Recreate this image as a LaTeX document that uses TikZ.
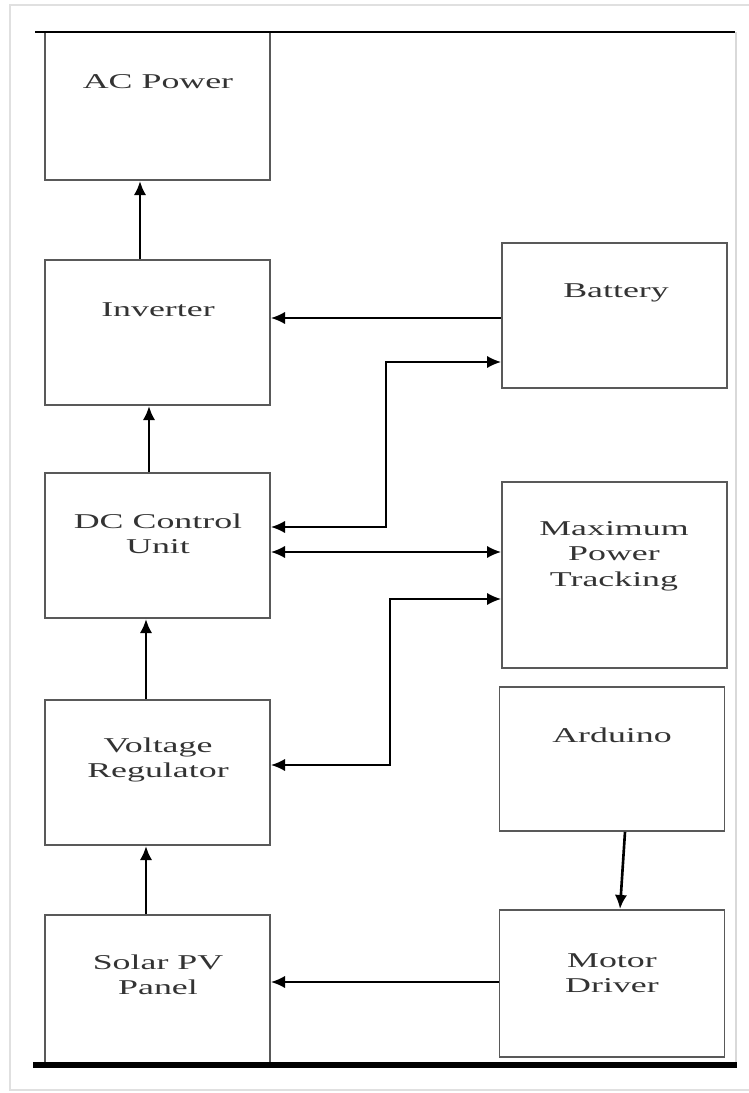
\documentclass[tikz,border=0pt]{standalone}
\usepackage{fontspec}
\setmainfont{Liberation Serif}[FakeStretch=1.7]
\usetikzlibrary{arrows.meta}

\begin{document}
\begin{tikzpicture}[x=0.02cm,y=-0.02cm,
    box/.style={draw=black!65,line width=1.1pt,rectangle,inner sep=0pt,minimum width=4.5cm},
    txt/.style={text=black!80,align=center,inner sep=0pt,font=\fontsize{12}{14.5}\selectfont},
    arr/.style={draw=black,line width=1pt,-{Latex[length=8pt,width=7pt]}},
    biarr/.style={draw=black,line width=1pt,{Latex[length=8pt,width=7pt]}-{Latex[length=8pt,width=7pt]}},
    uparr/.style={arr,line width=1.5pt}]
        \useasboundingbox (0,0) rectangle (749,1093);
        \draw[black!12,line width=1.2pt] (749,5) -- (10,5) -- (10,1090) -- (749,1090);
        \draw[black!15,line width=0.8pt] (736,32) -- (736,1065);

        \node[box,minimum height=2.96cm] (acp) at (157.5,106) {};
        \node[box,minimum height=2.9cm] (inv) at (157.5,332.5) {};
        \node[box,minimum height=2.9cm] (dcu) at (157.5,545.5) {};
        \node[box,minimum height=2.9cm] (vreg) at (157.5,772.5) {};
        \node[box,minimum height=2.96cm] (spv) at (157.5,989) {};
        \node[box,minimum height=2.9cm] (bat) at (614.5,315.5) {};
        \node[box,minimum height=3.72cm] (mpt) at (614.5,575) {};
        \node[box,minimum height=2.88cm] (ard) at (612,759) {};
        \node[box,minimum height=2.94cm] (mdrv) at (612,983.5) {};

        \node[txt] (acp-t) at (158,82) {AC Power};
        \node[txt] (inv-t) at (158,310) {Inverter};
        \node[txt] (dcu-t) at (158,534) {DC Control\\Unit};
        \node[txt] (vreg-t) at (158,760) {Voltage\\Regulator};
        \node[txt] (spv-t) at (158,975) {Solar PV\\Panel};
        \node[txt] (bat-t) at (616,293) {Battery};
        \node[txt] (mpt-t) at (614,556) {Maximum\\Power\\Tracking};
        \node[txt] (ard-t) at (612,735) {Arduino};
        \node[txt] (mdrv-t) at (612,973) {Motor\\Driver};

        \draw[black,line width=1.7pt] (35,32) -- (735,32);
        \draw[black,line width=3.4pt] (33,1065) -- (737,1065);

        \path (inv.north -| 140,0) edge[uparr] (acp.south -| 140,0);
        \path (dcu.north -| 149,0) edge[uparr] (inv.south -| 149,0);
        \path (vreg.north -| 146,0) edge[uparr] (dcu.south -| 146,0);
        \path (spv.north -| 146,0) edge[uparr] (vreg.south -| 146,0);
        \path (bat.west |- 0,318) edge[arr] (inv.east |- 0,318);
        \draw [biarr] (dcu.east |- 0,527) -- (386,527) |- (bat.west |- 0,362);
        \path (dcu.east |- 0,552) edge[biarr] (mpt.west |- 0,552);
        \draw [biarr] (vreg.east |- 0,765) -- (390,765) |- (mpt.west |- 0,599);
        \path (ard.south -| 625,0) edge[uparr] (mdrv.north -| 620,0);
        \path (mdrv.west |- 0,982) edge[arr] (spv.east |- 0,982);
    \end{tikzpicture}
\end{document}
